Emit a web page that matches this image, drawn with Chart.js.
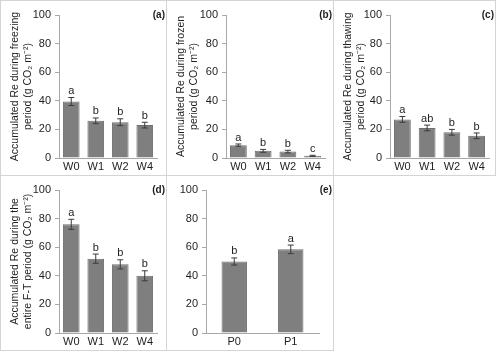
<!DOCTYPE html>
<html lang="en">
<head>
<meta charset="UTF-8">
<title>Accumulated Re panels</title>
<script src="https://cdn.jsdelivr.net/npm/chart.js"></script>
<style>
  body { margin: 0; background: #fff; width: 499px; height: 354px; position: relative; overflow: hidden; }
  .panel { position: absolute; border: 1px solid #d4d4d4; box-sizing: border-box; }
  .panel canvas { position: absolute; left: 0; top: 0; }
</style>
</head>
<body>
<div class="panel" id="pa" style="left:0;top:0;width:167px;height:176px"><canvas id="ca" width="165" height="174"></canvas></div>
<div class="panel" id="pb" style="left:166px;top:0;width:168px;height:176px"><canvas id="cb" width="166" height="174"></canvas></div>
<div class="panel" id="pc" style="left:333px;top:0;width:163px;height:176px"><canvas id="cc" width="161" height="174"></canvas></div>
<div class="panel" id="pd" style="left:0;top:175px;width:167px;height:176px"><canvas id="cd" width="165" height="174"></canvas></div>
<div class="panel" id="pe" style="left:166px;top:175px;width:168px;height:176px"><canvas id="ce" width="166" height="174"></canvas></div>

<script>
// data
const weeks = ['W0', 'W1', 'W2', 'W4'];
const phases = ['P0', 'P1'];
const yTicks = [0, 20, 40, 60, 80, 100];

const freezing = [39.5, 26, 25, 23];
const freezingErr = [2.8, 2, 2.4, 2];
const freezingSig = ['a', 'b', 'b', 'b'];

const frozen = [9, 5, 4.5, 1.5];
const frozenErr = [0.8, 1, 0.9, 0.4];
const frozenSig = ['a', 'b', 'b', 'c'];

const thawing = [27, 21, 18, 15.5];
const thawingErr = [2, 2, 2, 2];
const thawingSig = ['a', 'ab', 'b', 'b'];

const entire = [76, 52, 48, 40];
const entireErr = [3.5, 3.2, 3.2, 3.5];
const entireSig = ['a', 'b', 'b', 'b'];

const phaseVals = [50, 58.5];
const phaseErr = [2.5, 3];
const phaseSig = ['b', 'a'];

const FONT = '"Liberation Sans", Arial, sans-serif';
const TXT = '#1e1e1e';
const AXIS = '#a8a8a8';

const extras = {
  id: 'extras',
  afterDatasetsDraw(chart, args, opts) {
    const ctx = chart.ctx;
    const y = chart.scales.y;
    const meta = chart.getDatasetMeta(0);
    ctx.save();
    meta.data.forEach((bar, i) => {
      const v = chart.data.datasets[0].data[i];
      const e = opts.err[i];
      const x = bar.x;
      const yTop = y.getPixelForValue(v + e);
      const yBot = y.getPixelForValue(v - e);
      ctx.strokeStyle = '#3a3a3a';
      ctx.lineWidth = 1;
      ctx.beginPath();
      ctx.moveTo(x, yTop); ctx.lineTo(x, yBot);
      ctx.moveTo(x - 3, yTop); ctx.lineTo(x + 3, yTop);
      ctx.moveTo(x - 3, yBot); ctx.lineTo(x + 3, yBot);
      ctx.stroke();
      ctx.fillStyle = TXT;
      ctx.font = '11px ' + FONT;
      ctx.textAlign = 'center';
      ctx.textBaseline = 'bottom';
      ctx.fillText(opts.sig[i], x, yTop - 1);
    });
    ctx.font = 'bold 10px ' + FONT;
    ctx.textAlign = 'right';
    ctx.textBaseline = 'middle';
    ctx.fillStyle = TXT;
    ctx.fillText(opts.tag, chart.width - 1, 14);
    ctx.restore();
  }
};

function makePanel(id, labels, values, err, sig, tag, title, left, right, barPct) {
  const padLeft = title ? 8 : 0;
  new Chart(document.getElementById(id), {
    type: 'bar',
    data: {
      labels: labels,
      datasets: [{
        data: values,
        backgroundColor: '#7f7f7f',
        borderColor: '#6e6e6e',
        borderWidth: 1,
        categoryPercentage: 1,
        barPercentage: barPct
      }]
    },
    options: {
      responsive: false,
      animation: false,
      layout: { padding: { top: 14, right: right, bottom: 0, left: padLeft } },
      plugins: {
        legend: { display: false },
        tooltip: { enabled: false },
        extras: { err: err, sig: sig, tag: tag }
      },
      scales: {
        x: {
          grid: { display: false, drawTicks: false },
          border: { display: true, color: AXIS, width: 1 },
          ticks: { color: TXT, font: { family: FONT, size: 11 }, padding: 2 },
          afterFit: s => { s.height = 17; }
        },
        y: {
          min: 0, max: 100,
          afterBuildTicks: s => { s.ticks = yTicks.map(v => ({ value: v })); },
          grid: { display: true, drawOnChartArea: false, tickLength: 4, color: AXIS },
          border: { display: true, color: AXIS, width: 1 },
          ticks: { color: TXT, font: { family: FONT, size: 11 }, padding: 4 },
          title: {
            display: !!title,
            text: title || '',
            color: TXT,
            font: { family: FONT, size: 10.5 },
            padding: { top: 0, bottom: 1 }
          },
          afterFit: s => { s.width = left - padLeft; }
        }
      }
    },
    plugins: [extras]
  });
}

makePanel('ca', weeks, freezing, freezingErr, freezingSig, '(a)',
  ['Accumulated Re during freezing', 'period (g CO\u2082 m\u207B\u00B2)'], 58, 9, 0.68);
makePanel('cb', weeks, frozen, frozenErr, frozenSig, '(b)',
  ['Accumulated Re during frozen', 'period (g CO\u2082 m\u207B\u00B2)'], 59, 8, 0.68);
makePanel('cc', weeks, thawing, thawingErr, thawingSig, '(c)',
  ['Accumulated Re during thawing', 'period (g CO\u2082 m\u207B\u00B2)'], 56, 6, 0.68);
makePanel('cd', weeks, entire, entireErr, entireSig, '(d)',
  ['Accumulated Re during the', 'entire F-T period (g CO\u2082 m\u207B\u00B2)'], 58, 9, 0.68);
makePanel('ce', phases, phaseVals, phaseErr, phaseSig, '(e)', null, 39, 14, 0.45);
</script>
</body>
</html>
